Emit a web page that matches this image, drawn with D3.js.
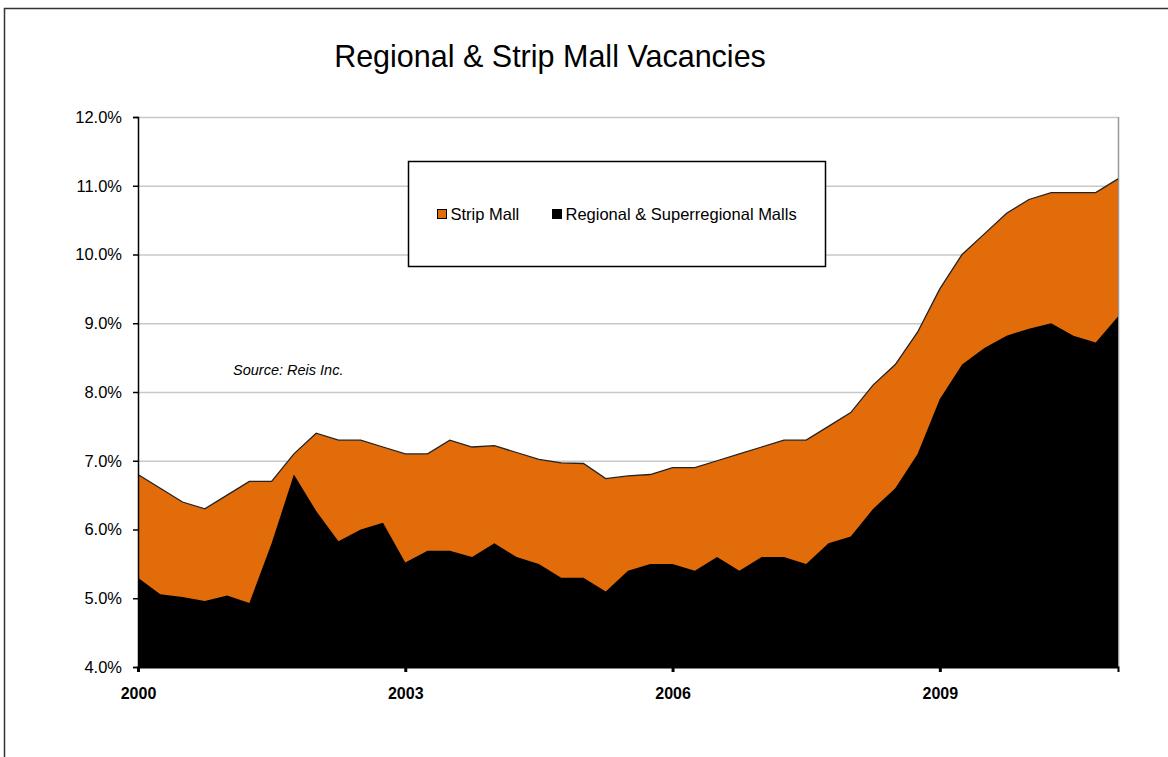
<!DOCTYPE html>
<html>
<head>
<meta charset="utf-8">
<script src="https://cdn.jsdelivr.net/npm/d3@7"></script>
<style>
    body { margin: 0; background: #fff; }
    svg { display: block; font-family: "Liberation Sans", Arial, sans-serif; }
</style>
</head>
<body>
<svg id="chart" width="1168" height="757"></svg>
<script>
// quarterly readings, 2000 Q1 .. 2011 Q1
const quarters = d3.range(45).map(i => 2000 + i / 4)
const stripMall = [6.8, 6.6, 6.4, 6.3, 6.5, 6.7, 6.7, 7.1, 7.4, 7.3, 7.3, 7.2,
    7.1, 7.1, 7.3, 7.2, 7.22, 7.12, 7.02, 6.97, 6.96, 6.74, 6.78, 6.8,
    6.9, 6.9, 7.0, 7.1, 7.2, 7.3, 7.3, 7.5, 7.7, 8.1, 8.4, 8.87,
    9.5, 10.0, 10.3, 10.6, 10.8, 10.9, 10.9, 10.9, 11.1]
const regional = [5.3, 5.06, 5.02, 4.96, 5.04, 4.93, 5.8, 6.8, 6.27, 5.83, 6.0, 6.1,
    5.52, 5.69, 5.69, 5.6, 5.8, 5.6, 5.5, 5.3, 5.3, 5.1, 5.4, 5.5,
    5.5, 5.4, 5.6, 5.4, 5.6, 5.6, 5.5, 5.8, 5.9, 6.3, 6.6, 7.1,
    7.9, 8.4, 8.64, 8.82, 8.92, 9.0, 8.82, 8.72, 9.1]
const yTicks = [4, 5, 6, 7, 8, 9, 10, 11, 12]
const xTicks = [2000, 2003, 2006, 2009]
const seriesNames = ['Strip Mall', 'Regional & Superregional Malls']
const colors = ['#e36c0a', '#000000']

const svg = d3.select('#chart')
const margin = {top: 117, right: 50, bottom: 90, left: 138}
const width = 1168 - margin.left - margin.right
const height = 757 - margin.top - margin.bottom

// outer frame
svg.append('path')
    .attr('d', 'M4.5,760 V8.5 H1172')
    .attr('fill', 'none')
    .attr('stroke', '#333')
    .attr('stroke-width', 1.5)

svg.append('text')
    .attr('x', 550).attr('y', 67)
    .attr('text-anchor', 'middle')
    .attr('font-size', 30.5)
    .text('Regional & Strip Mall Vacancies')

const g = svg.append('g').attr('transform', `translate(${margin.left},${margin.top})`)

const x = d3.scaleLinear().domain([2000, 2011]).range([0, width])
const y = d3.scaleLinear().domain([4, 12]).range([height, 0])

// gridlines
g.selectAll('line.grid')
    .data(yTicks.filter(d => d > 4))
    .join('line')
    .attr('class', 'grid')
    .attr('x1', 0).attr('x2', width)
    .attr('y1', d => y(d) + .5).attr('y2', d => y(d) + .5)
    .attr('stroke', '#c8c8c8')
    .attr('stroke-width', 1.5)

// right border of plot
g.append('line')
    .attr('x1', width + .5).attr('x2', width + .5)
    .attr('y1', 0).attr('y2', height)
    .attr('stroke', '#999').attr('stroke-width', 1.5)

const area = vals => d3.area()
    .x((d, i) => x(quarters[i]))
    .y0(y(4))
    .y1(d => y(d))(vals)
const line = vals => d3.line()
    .x((d, i) => x(quarters[i]))
    .y(d => y(d))(vals)

g.append('path').attr('d', area(stripMall)).attr('fill', colors[0])
g.append('path').attr('d', line(stripMall))
    .attr('fill', 'none').attr('stroke', '#222').attr('stroke-width', 1.3)
g.append('path').attr('d', area(regional)).attr('fill', colors[1])

// y axis
const yAxis = g.append('g')
    .call(d3.axisLeft(y).tickValues(yTicks).tickSize(5).tickPadding(11)
        .tickFormat(d => d.toFixed(1) + '%'))
yAxis.select('.domain').attr('stroke', '#000').attr('stroke-width', 1.5)
yAxis.selectAll('.tick line').attr('stroke-width', 1.5)
yAxis.selectAll('text').attr('font-size', 16.5).attr('fill', '#000')
    .attr('font-family', '"Liberation Sans", Arial, sans-serif')

// x axis
const xAxis = g.append('g')
    .attr('transform', `translate(0,${height})`)
    .call(d3.axisBottom(x).tickValues(xTicks).tickSize(5).tickPadding(16)
        .tickFormat(d3.format('d')))
xAxis.select('.domain').attr('stroke', '#000').attr('stroke-width', 2)
xAxis.selectAll('.tick line').attr('stroke-width', 3)
xAxis.selectAll('text').attr('font-size', 16).attr('font-weight', 'bold')
    .attr('fill', '#000')
    .attr('font-family', '"Liberation Sans", Arial, sans-serif')

// legend
const legend = svg.append('g').attr('transform', 'translate(408.5,161.5)')
legend.append('rect')
    .attr('width', 417).attr('height', 105)
    .attr('fill', '#fff').attr('stroke', '#000').attr('stroke-width', 1.5)
const itemX = [29, 144]
seriesNames.forEach((name, i) => {
    const it = legend.append('g').attr('transform', `translate(${itemX[i]},48)`)
    it.append('rect')
        .attr('width', 9).attr('height', 9)
        .attr('fill', colors[i]).attr('stroke', '#000').attr('stroke-width', 1)
    it.append('text')
        .attr('x', 13).attr('y', 10.5)
        .attr('font-size', 16.5)
        .text(name)
})

svg.append('text')
    .attr('x', 233).attr('y', 375)
    .attr('font-size', 14.5).attr('font-style', 'italic')
    .text('Source: Reis Inc.')
</script>
</body>
</html>
